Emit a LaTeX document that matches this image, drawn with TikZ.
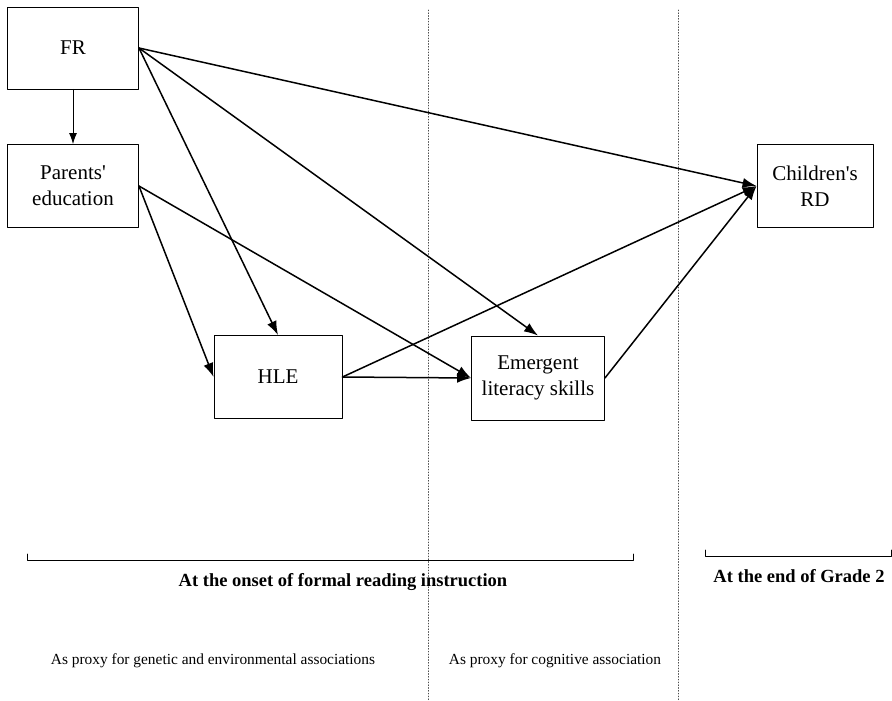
\documentclass[tikz,border=0pt]{standalone}
\usepackage{fontspec}
\setmainfont{Liberation Serif}[Ligatures=TeXOff]
\usetikzlibrary{arrows.meta}
\tikzset{
    lab/.style={
        font=\fontsize{18.5}{22}\selectfont\bfseries
    }
}

\begin{document}
\begin{tikzpicture}[x=1pt,y=-1pt, line cap=round, line join=round]

\tikzset{
  box/.style={draw=black, line width=0.9pt, align=center, inner sep=0pt,
    font=\fontsize{21}{26}\selectfont},
  main/.style={draw=black, line width=1.5pt, -{Latex[length=14pt,width=10pt]}},
  thin/.style={draw=black, line width=0.9pt, -{Latex[length=11pt,width=8pt]}},
  sep/.style={draw=black!70, line width=0.8pt, dotted},
  brace/.style={draw=black, line width=1pt},
  note/.style={font=\fontsize{15.4}{18}\selectfont},
}

\useasboundingbox (0,0) rectangle (892,701);

% boxes
\node[box, minimum width=131pt, minimum height=82pt] (FR) at (73,48) {FR};
\node[box, minimum width=131pt, minimum height=83pt] (PE) at (73,186) {Parents'\\education};
\node[box, minimum width=128pt, minimum height=83pt] (HLE) at (278,377) {HLE};
\node[box, minimum width=133pt, minimum height=84pt] (ELS) at (538,378) {Emergent\\literacy skills};
\node[box, minimum width=116pt, minimum height=83pt] (RD) at (815,186) {Children's\\RD};

% separators
\coordinate (S1a) at (428,10);
\coordinate (S1b) at (428,701);
\coordinate (S2a) at (678,10);
\coordinate (S2b) at (678,701);
\draw[sep] (S1a) -- (S1b);
\draw[sep] (S2a) -- (S2b);

% paths from FR
\draw[thin] (FR.south) -- (PE.north);
\draw[main] (FR.east) -- (RD.west);
\draw[main] (FR.east) -- (HLE.north);
\draw[main] (FR.east) -- (ELS.north);

% paths from parents' education
\draw[main] (PE.east) -- (HLE.west);
\draw[main] (PE.east) -- (ELS.west);

% paths to RD
\draw[main] (HLE.east) -- (ELS.west);
\draw[main] (HLE.east) -- (RD.west);
\draw[main] (ELS.east) -- (RD.west);

% time brackets
\coordinate (B1a) at (27,554);
\coordinate (B1b) at (27,560);
\coordinate (B1c) at (633,560);
\coordinate (B1d) at (633,554);
\draw[brace] (B1a) -- (B1b) -- (B1c) -- (B1d);
\coordinate (B2a) at (705,550);
\coordinate (B2b) at (705,556);
\coordinate (B2c) at (891,556);
\coordinate (B2d) at (891,550);
\draw[brace] (B2a) -- (B2b) -- (B2c) -- (B2d);

% labels
\node[lab] (onset) at (343,582) {At the onset of formal reading instruction};
\node[lab] (grade) at (799,576) {At the end of Grade 2};
\node[note] (gen) at (213,661) {As proxy for genetic and environmental associations};
\node[note] (cog) at (555,661) {As proxy for cognitive association};

\end{tikzpicture}
\end{document}
